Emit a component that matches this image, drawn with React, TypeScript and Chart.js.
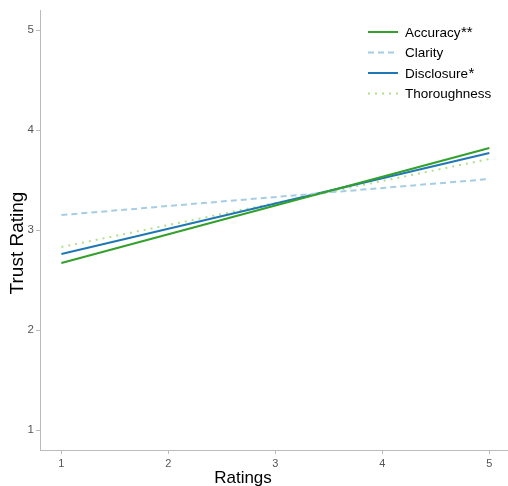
import React, { useEffect, useRef } from "react";
import { Chart, registerables } from "chart.js";

Chart.register(...registerables);

const xValues = [1, 5];
const xTicks = [1, 2, 3, 4, 5];
const yTicks = [1, 2, 3, 4, 5];
const seriesNames = ["Accuracy", "Clarity", "Disclosure", "Thoroughness"];
const seriesSup = ["**", "", "*", ""];
const accuracy = [2.67, 3.82];
const clarity = [3.15, 3.51];
const disclosure = [2.76, 3.77];
const thoroughness = [2.83, 3.71];
const seriesColors = ["#33a02c", "#a6cee3", "#1f78b4", "#b2df8a"];
const seriesDash: number[][] = [[], [6, 4], [], [2, 5]];
const xTitle = "Ratings";
const yTitle = "Trust Rating";

const FONT = "'Liberation Sans', Arial, Helvetica, sans-serif";

const legendPlugin = {
  id: "customLegend",
  afterDraw(chart: any) {
    const ctx = chart.ctx;
    ctx.save();
    chart.data.datasets.forEach((ds: any, i: number) => {
      const y = 32 + i * 20.5;
      ctx.beginPath();
      ctx.strokeStyle = ds.borderColor;
      ctx.lineWidth = ds.borderWidth;
      ctx.setLineDash(ds.borderDash || []);
      ctx.lineCap = "butt";
      ctx.moveTo(368, y);
      ctx.lineTo(398, y);
      ctx.stroke();
      ctx.setLineDash([]);
      ctx.fillStyle = "#000";
      ctx.textBaseline = "alphabetic";
      ctx.textAlign = "left";
      ctx.font = `13.5px ${FONT}`;
      const base = y + 4.8;
      ctx.fillText(seriesNames[i], 405, base);
      const w = ctx.measureText(seriesNames[i]).width;
      if (seriesSup[i]) {
        ctx.font = `15px ${FONT}`;
        ctx.fillText(seriesSup[i], 405 + w + 0.5, base);
      }
    });
    // axis titles
    ctx.fillStyle = "#000";
    ctx.font = `17px ${FONT}`;
    ctx.textAlign = "center";
    ctx.textBaseline = "alphabetic";
    ctx.fillText(xTitle, 243, 483);
    ctx.save();
    ctx.translate(23, 243);
    ctx.rotate(-Math.PI / 2);
    ctx.font = `19px ${FONT}`;
    ctx.fillText(yTitle, 0, 0);
    ctx.restore();
    ctx.restore();
  },
};

export default function App() {
  const ref = useRef<HTMLCanvasElement>(null);
  useEffect(() => {
    const series = [accuracy, clarity, disclosure, thoroughness];
    const chart = new Chart(ref.current!, {
      type: "line",
      data: {
        datasets: series.map((vals, i) => ({
          label: seriesNames[i],
          data: xValues.map((x, j) => ({ x, y: vals[j] })),
          borderColor: seriesColors[i],
          backgroundColor: seriesColors[i],
          borderWidth: 2,
          borderDash: seriesDash[i],
          pointRadius: 0,
          fill: false,
          tension: 0,
        })),
      },
      options: {
        animation: false,
        responsive: false,
        layout: { padding: { top: 10, right: 0, left: 0, bottom: 0 } },
        plugins: { legend: { display: false }, tooltip: { enabled: false } },
        scales: {
          x: {
            type: "linear",
            min: 0.8,
            max: 5.174,
            afterFit: (s: any) => {
              s.height = 36;
            },
            afterBuildTicks: (s: any) => {
              s.ticks = xTicks.map((v) => ({ value: v }));
            },
            border: { display: true, color: "#bbbbbb", width: 1 },
            grid: { display: true, drawOnChartArea: false, drawTicks: true, tickLength: 4, color: "#bbbbbb" },
            ticks: { font: { family: FONT, size: 11 }, color: "#555555", padding: 3, maxRotation: 0 },
            title: { display: false },
          },
          y: {
            type: "linear",
            min: 0.8,
            max: 5.2,
            afterFit: (s: any) => {
              s.width = 40;
            },
            afterBuildTicks: (s: any) => {
              s.ticks = yTicks.map((v) => ({ value: v }));
            },
            border: { display: true, color: "#bbbbbb", width: 1 },
            grid: { display: true, drawOnChartArea: false, drawTicks: true, tickLength: 4, color: "#bbbbbb" },
            ticks: { font: { family: FONT, size: 11.5 }, color: "#555555", padding: 2 },
            title: { display: false },
          },
        },
      },
      plugins: [legendPlugin],
    });
    return () => chart.destroy();
  }, []);
  return (
    <div style={{ position: "fixed", left: 0, top: 0, width: 508, height: 486, background: "#fff" }}>
      <canvas ref={ref} width={508} height={486} style={{ display: "block" }} />
    </div>
  );
}
